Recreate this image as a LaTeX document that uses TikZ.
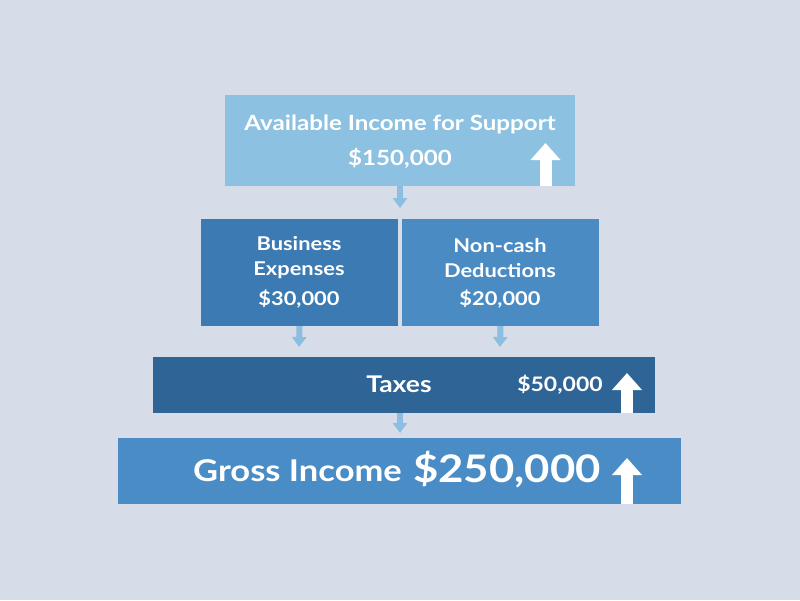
\documentclass[tikz,border=0pt]{standalone}
\usepackage{fontspec}
\setmainfont{Lato}[FakeStretch=1.15]
\usetikzlibrary{arrows.meta}
\definecolor{bgc}{HTML}{D6DDE8}
\definecolor{topc}{HTML}{8DC1E1}
\definecolor{busc}{HTML}{3B7AB2}
\definecolor{ncc}{HTML}{4B8BC3}
\definecolor{taxc}{HTML}{2F6496}
\definecolor{grc}{HTML}{4A8CC5}
\definecolor{sarr}{HTML}{8BBEE0}
\tikzset{
  box/.style={anchor=north west, inner sep=0pt, outer sep=0pt},
  lbl/.style={text=white, font=\bfseries, inner sep=0pt, align=center},
  smallarrow/.style={draw=sarr, line width=6pt, -{Triangle[width=14pt,length=10pt]}},
  whitearrow/.style={draw=white, line width=12pt, -{Triangle[width=29pt,length=17pt]}}
}
\begin{document}
\begin{tikzpicture}[x=1pt,y=-1pt]
\fill[bgc] (0,0) rectangle (800,600);
\useasboundingbox (0,0) rectangle (800,600);
% boxes
\node[box, fill=topc, minimum width=350pt, minimum height=91pt] (top) at (225,95) {};
\node[box, fill=busc, minimum width=197pt, minimum height=107pt] (bus) at (201,219) {};
\node[box, fill=ncc, minimum width=197pt, minimum height=107pt] (nc) at (402,219) {};
\node[box, fill=taxc, minimum width=502pt, minimum height=56pt] (tax) at (153,357) {};
\node[box, fill=grc, minimum width=563pt, minimum height=66pt] (gross) at (118,438) {};
% texts
\node[lbl, font=\bfseries\fontsize{21}{25}\selectfont] (t1) at (400,124) {Available Income for Support};
\node[lbl, font=\bfseries\fontsize{21}{25}\selectfont] (t2) at (400,158) {\$150,000};
\node[lbl, font=\bfseries\fontsize{19}{25}\selectfont] (b1) at (299,258) {Business\\Expenses};
\node[lbl, font=\bfseries\fontsize{19}{25}\selectfont] (b2) at (299,299) {\$30,000};
\node[lbl, font=\bfseries\fontsize{19}{25}\selectfont] (n1) at (500,258) {Non-cash\\Deductions};
\node[lbl, font=\bfseries\fontsize{19}{25}\selectfont] (n2) at (500,299) {\$20,000};
\node[lbl, font=\bfseries\fontsize{23}{27}\selectfont] (tx1) at (399,384) {Taxes};
\node[lbl, font=\bfseries\fontsize{20}{24}\selectfont] (tx2) at (560,385) {\$50,000};
\node[lbl, font=\bfseries\fontsize{30}{36}\selectfont, anchor=base east] (g1) at (402,481) {Gross Income};
\node[lbl, font=\bfseries\fontsize{38}{44}\selectfont, anchor=base west] (g2) at (413,482) {\$250,000};
% small connector arrows
\coordinate (a1) at (400,208);
\coordinate (a2) at (299,347);
\coordinate (a3) at (500,347);
\coordinate (a4) at (400,433);
\draw[smallarrow] (top.south) -- (a1);
\draw[smallarrow] (bus.south) -- (a2);
\draw[smallarrow] (nc.south) -- (a3);
\draw[smallarrow] (tax.south -| a4) -- (a4);
% white up arrows
\draw[whitearrow] (545.5,186) -- (545.5,143);
\draw[whitearrow] (627,413) -- (627,373);
\draw[whitearrow] (627,504) -- (627,458);
\end{tikzpicture}
\end{document}
